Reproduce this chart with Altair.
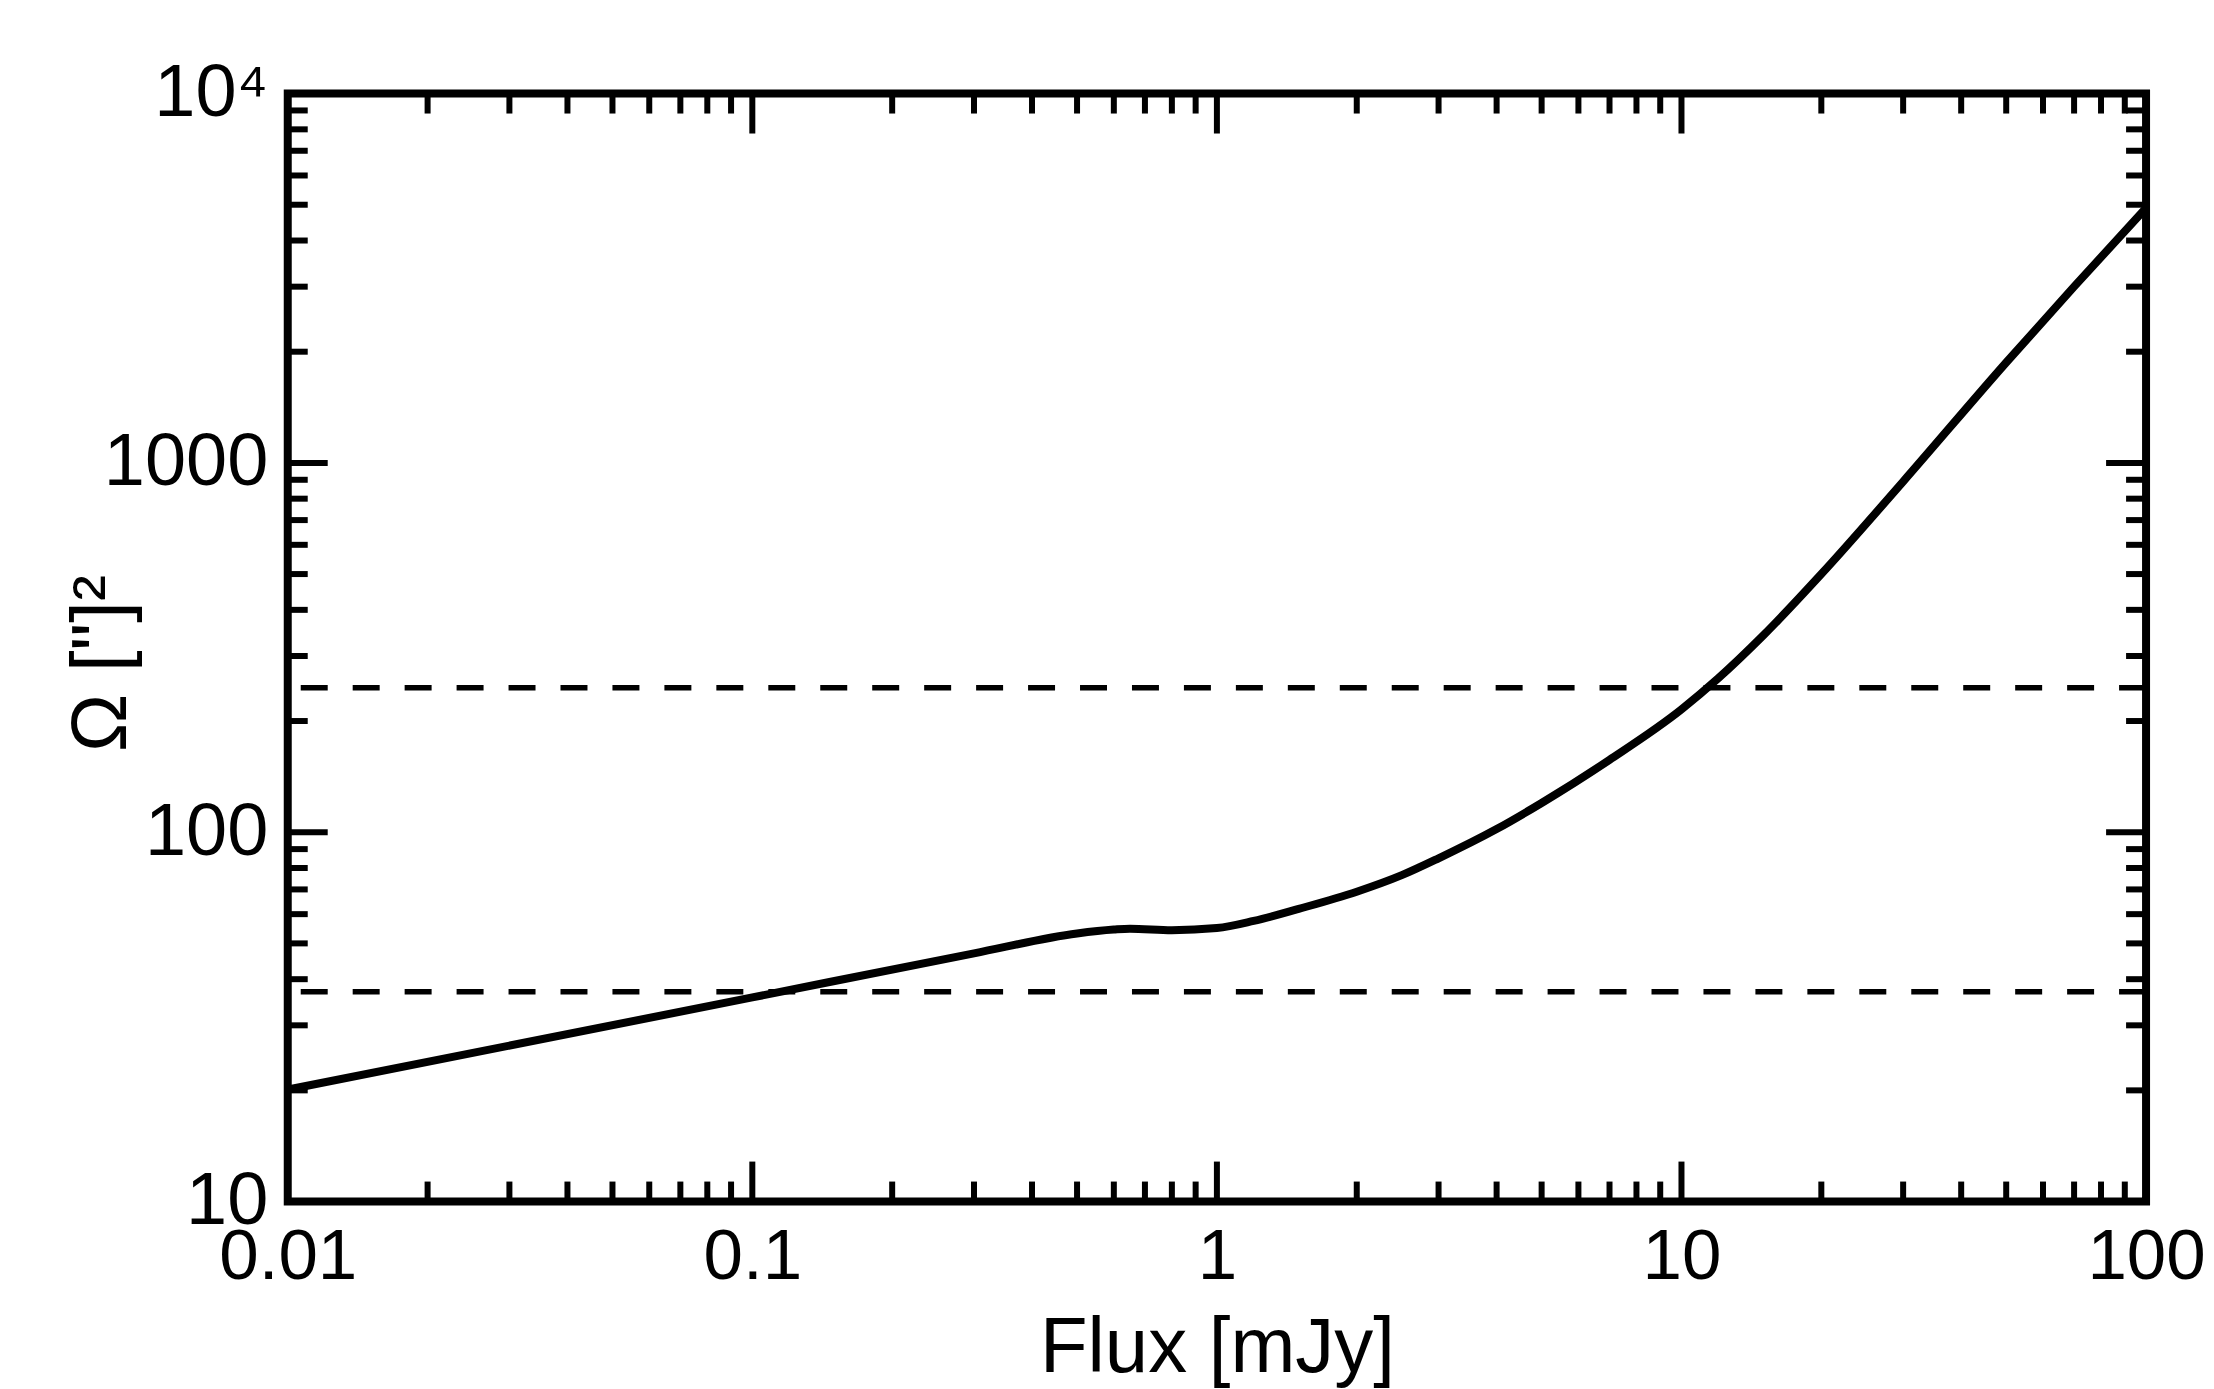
import altair as alt
import pandas as pd

# Curve (Flux in mJy, Omega in arcsec^2)
flux = [0.01, 0.1, 0.3, 0.5, 0.6, 0.65, 0.8, 1.0, 1.2, 1.5, 2.0, 2.5, 3.0, 4.0, 5.0, 7.0, 10.0, 12.0, 15.0, 20.0, 30.0, 50.0, 70.0, 100.0]
omega = [20.1, 35.7, 47.0, 53.2, 54.5, 54.8, 54.3, 55.0, 57.5, 62.0, 69.0, 76.5, 85.0, 102.0, 120.0, 157.0, 215.0, 261.0, 341.0, 500.0, 890.0, 1870.0, 3000.0, 4900.0]

# Horizontal dashed reference levels
hlines = [246.0, 37.0]

# Axis labels / ticks
x_label_values = [0.01, 0.1, 1, 10, 100]
y_label_values = [10, 100, 1000, 10000]
x_major_ticks = [0.1, 1, 10]
x_minor_ticks = [0.02, 0.03, 0.04, 0.05, 0.06, 0.07, 0.08, 0.09,
                 0.2, 0.3, 0.4, 0.5, 0.6, 0.7, 0.8, 0.9,
                 2, 3, 4, 5, 6, 7, 8, 9,
                 20, 30, 40, 50, 60, 70, 80, 90]
y_major_ticks = [100, 1000]
y_minor_ticks = [20, 30, 40, 50, 60, 70, 80, 90,
                 200, 300, 400, 500, 600, 700, 800, 900,
                 2000, 3000, 4000, 5000, 6000, 7000, 8000, 9000]

W, H = 1860, 1109
FONT = "Liberation Sans"
MAJ, MIN, TW = 40, 20, 6

xs = alt.Scale(type="log", domain=[0.01, 100], nice=False)
ys = alt.Scale(type="log", domain=[10, 10000], nice=False)

df = pd.DataFrame({"flux": flux, "omega": omega})

line = alt.Chart(df).mark_line(color="black", strokeWidth=8, interpolate="monotone").encode(
    x=alt.X("flux:Q", scale=xs, axis=alt.Axis(
        values=x_label_values, labelExpr="format(datum.value, '~g')",
        title="Flux [mJy]", ticks=False, tickSize=0, domain=False, grid=False,
        labelFontSize=71, labelPadding=21, labelBaseline="top", labelFlush=False,
        labelOverlap=False,
        titleFontSize=78, titleFontWeight="normal", titleX=930, titleY=170,
        titleAlign="center", titleBaseline="alphabetic")),
    y=alt.Y("omega:Q", scale=ys, axis=alt.Axis(
        values=y_label_values,
        labelExpr="datum.value == 10000 ? '10\u2074' : format(datum.value, 'd')",
        title="\u03a9 [\"]\u00b2", ticks=False, tickSize=0, domain=False, grid=False,
        labelFontSize=74, labelPadding=20, labelFlush=False, labelOverlap=False,
        titleFontSize=78, titleFontWeight="normal", titleAngle=270,
        titleX=-162, titleY=570, titleAlign="center", titleBaseline="alphabetic")),
)

dashed = alt.Chart(pd.DataFrame({"h": hlines})).mark_rule(
    color="black", strokeWidth=5.5, strokeDash=[27, 25]).encode(
    y=alt.Y("h:Q", scale=ys))


def xticks(vals, y0, y1):
    return alt.Chart(pd.DataFrame({"v": vals})).mark_rule(color="black", strokeWidth=TW).encode(
        x=alt.X("v:Q", scale=xs), y=alt.value(y0), y2=alt.value(y1))


def yticks(vals, x0, x1):
    return alt.Chart(pd.DataFrame({"v": vals})).mark_rule(color="black", strokeWidth=TW).encode(
        y=alt.Y("v:Q", scale=ys), x=alt.value(x0), x2=alt.value(x1))


ticks = [
    xticks(x_major_ticks, H, H - MAJ), xticks(x_major_ticks, 0, MAJ),
    xticks(x_minor_ticks, H, H - MIN), xticks(x_minor_ticks, 0, MIN),
    yticks(y_major_ticks, 0, MAJ), yticks(y_major_ticks, W, W - MAJ),
    yticks(y_minor_ticks, 0, MIN), yticks(y_minor_ticks, W, W - MIN),
]

chart = alt.layer(line, dashed, *ticks).properties(
    width=W, height=H,
    padding={"left": 280, "top": 85, "right": 60, "bottom": 188},
    autosize=alt.AutoSizeParams(type="none"),
    background="white",
).configure_view(
    stroke="black", strokeWidth=8
).configure_axis(
    labelFont=FONT, titleFont=FONT, labelColor="black", titleColor="black"
)

chart.save("out.html", embed_options={"renderer": "svg", "actions": False})
